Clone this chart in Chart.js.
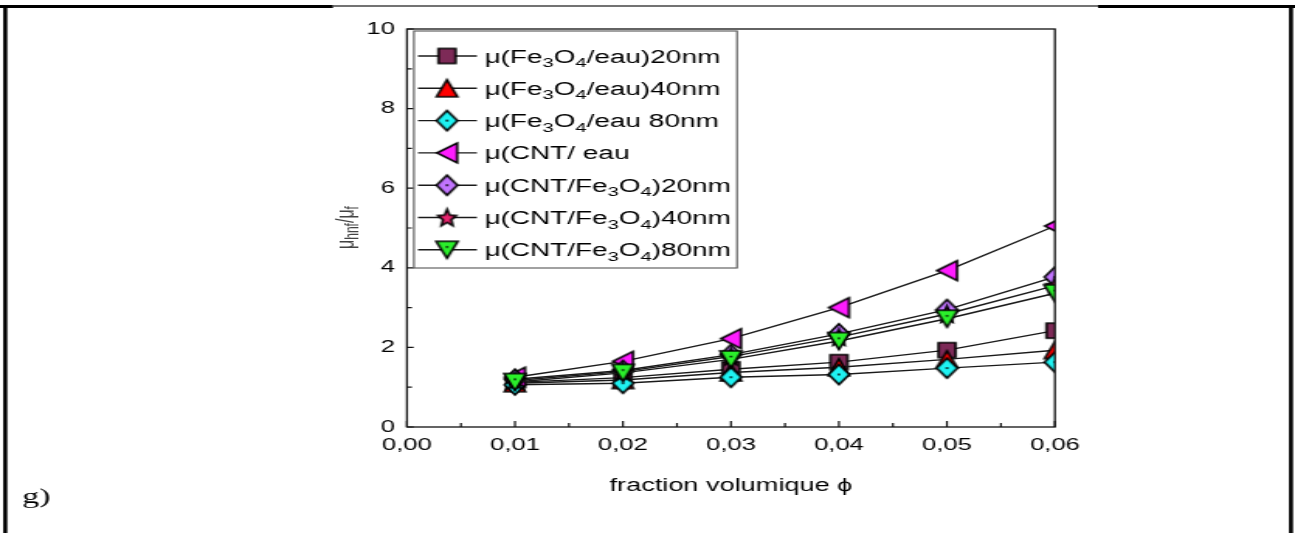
<!DOCTYPE html>
<html>
<head>
<meta charset="utf-8">
<script src="https://cdn.jsdelivr.net/npm/chart.js@4.4.1/dist/chart.umd.min.js"></script>
<style>
  html, body { margin: 0; padding: 0; background: #fff; overflow: hidden; }
  /* the reference picture is stretched sideways, so the chart is drawn narrow and widened */
  #wrap { position: absolute; left: 0; top: 0; width: 835px; height: 533px;
          transform: scaleX(1.5509); transform-origin: 0 0; }
</style>
</head>
<body>
<div id="wrap"><canvas id="chart"></canvas></div>
<script>
// data
const phi = [0.01, 0.02, 0.03, 0.04, 0.05, 0.06];
const fe20 = [1.12, 1.24, 1.45, 1.63, 1.93, 2.42];
const fe40 = [1.10, 1.18, 1.37, 1.50, 1.70, 1.93];
const fe80 = [1.06, 1.10, 1.25, 1.32, 1.48, 1.63];
const cntEau = [1.25, 1.65, 2.22, 3.00, 3.93, 5.05];
const hyb20 = [1.20, 1.42, 1.82, 2.34, 2.95, 3.77];
const hyb40 = [1.17, 1.39, 1.77, 2.26, 2.84, 3.55];
const hyb80 = [1.13, 1.36, 1.70, 2.16, 2.72, 3.36];

const seriesLabels = [
  'μ(Fe_3O_4/eau)20nm',
  'μ(Fe_3O_4/eau)40nm',
  'μ(Fe_3O_4/eau 80nm',
  'μ(CNT/ eau',
  'μ(CNT/Fe_3O_4)20nm',
  'μ(CNT/Fe_3O_4)40nm',
  'μ(CNT/Fe_3O_4)80nm'
];
const seriesValues = [fe20, fe40, fe80, cntEau, hyb20, hyb40, hyb80];
const seriesShapes = ['square', 'up', 'diamond', 'left', 'diamond', 'star', 'down'];
const seriesColors = ['#7d2a57', '#ff0000', '#1ff2f2', '#ff1cff', '#c274ff', '#e8246e', '#2bef2b'];
const seriesDots = [false, false, true, false, true, false, true];

const xMin = 0, xMax = 0.06, xStep = 0.01;
const yMin = 0, yMax = 10, yStep = 2;

const FONT = "'Liberation Sans', Arial, sans-serif";
Chart.defaults.font.family = FONT;
Chart.defaults.color = '#111';

// marker sizes (narrow, because of the sideways stretch)
const markerSize = {
  square: [11, 15], up: [13.5, 17], down: [14, 17], left: [13, 20],
  diamond: [13.5, 20], star: [12.5, 18]
};

function makeMarker(shape, fill, dot) {
  const [w, h] = markerSize[shape];
  const pad = 4;
  const c = document.createElement('canvas');
  c.width = Math.ceil(w + pad * 2);
  c.height = Math.ceil(h + pad * 2);
  const g = c.getContext('2d');
  g.translate(c.width / 2, c.height / 2);
  const hw = w / 2, hh = h / 2;
  let dy = 0;
  g.beginPath();
  if (shape === 'square') {
    g.rect(-hw, -hh, w, h);
  } else if (shape === 'up') {
    g.moveTo(0, -hh); g.lineTo(hw, hh); g.lineTo(-hw, hh); dy = hh / 3;
  } else if (shape === 'down') {
    g.moveTo(-hw, -hh); g.lineTo(hw, -hh); g.lineTo(0, hh); dy = -hh / 3;
  } else if (shape === 'left') {
    g.moveTo(-hw, 0); g.lineTo(hw, -hh); g.lineTo(hw, hh);
  } else if (shape === 'diamond') {
    g.moveTo(0, -hh); g.lineTo(hw, 0); g.lineTo(0, hh); g.lineTo(-hw, 0);
  } else if (shape === 'star') {
    for (let i = 0; i < 10; i++) {
      const a = -Math.PI / 2 + i * Math.PI / 5;
      const r = i % 2 ? 0.45 : 1;
      const px = Math.cos(a) * hw * r, py = Math.sin(a) * hh * r + hh * 0.1;
      if (i === 0) g.moveTo(px, py); else g.lineTo(px, py);
    }
  }
  g.closePath();
  g.fillStyle = fill;
  g.fill();
  g.lineWidth = 1.6;
  g.strokeStyle = '#000';
  g.stroke();
  if (dot) {
    g.beginPath();
    g.arc(0, dy, 0.9, 0, Math.PI * 2);
    g.fillStyle = '#000';
    g.fill();
  }
  return c;
}

const markers = seriesShapes.map((s, i) => makeMarker(s, seriesColors[i], seriesDots[i]));

const datasets = seriesValues.map((vals, i) => ({
  label: seriesLabels[i],
  data: vals.map((v, k) => ({ x: phi[k], y: v })),
  borderColor: '#1a1a1a',
  borderWidth: 1.4,
  pointStyle: markers[i],
  pointRadius: 8,
  pointHoverRadius: 8,
  fill: false,
  tension: 0,
  clip: 0,
  order: seriesValues.length - i
}));

// draws "main_sub" text with subscripts, returns width
function richText(ctx, str, x, y, size, subSize, measureOnly) {
  const parts = [];
  for (let i = 0; i < str.length; i++) {
    if (str[i] === '_') { parts.push({ t: str[i + 1], sub: true }); i++; }
    else parts.push({ t: str[i], sub: false });
  }
  let cx = x;
  parts.forEach(p => {
    ctx.font = (p.sub ? subSize : size) + 'px ' + FONT;
    if (!measureOnly) ctx.fillText(p.t, cx, p.sub ? y + size * 0.25 : y);
    cx += ctx.measureText(p.t).width;
  });
  return cx - x;
}

const decorPlugin = {
  id: 'decor',
  afterDatasetsDraw(chart) {
    const ctx = chart.ctx;
    const a = chart.chartArea;
    const xs = chart.scales.x, ys = chart.scales.y;
    ctx.save();
    ctx.strokeStyle = '#111';
    ctx.lineWidth = 1.3;
    ctx.strokeRect(a.left, a.top, a.right - a.left, a.bottom - a.top);
    // inward ticks, major and minor
    ctx.lineWidth = 1.2;
    ctx.beginPath();
    const xt = xs.ticks.map(t => t.value);
    xt.forEach((v, k) => {
      const px = xs.getPixelForValue(v);
      ctx.moveTo(px, a.bottom); ctx.lineTo(px, a.bottom - 6);
      if (k < xt.length - 1) {
        const pm = xs.getPixelForValue((v + xt[k + 1]) / 2);
        ctx.moveTo(pm, a.bottom); ctx.lineTo(pm, a.bottom - 4);
      }
    });
    const yt = ys.ticks.map(t => t.value);
    yt.forEach((v, k) => {
      const py = ys.getPixelForValue(v);
      ctx.moveTo(a.left, py); ctx.lineTo(a.left + 4.3, py);
      if (k < yt.length - 1) {
        const pm = ys.getPixelForValue((v + yt[k + 1]) / 2);
        ctx.moveTo(a.left, pm); ctx.lineTo(a.left + 3.2, pm);
      }
    });
    ctx.stroke();
    ctx.restore();
  },
  afterDraw(chart) {
    const ctx = chart.ctx;
    const W = chart.width, H = chart.height;
    ctx.save();

    // legend box inside the plot
    const bx = 266.9, by = 31, bw = 208.3, bh = 237;
    ctx.fillStyle = '#fff';
    ctx.fillRect(bx, by, bw, bh);
    ctx.strokeStyle = '#555';
    ctx.lineWidth = 1.1;
    ctx.strokeRect(bx, by, bw, bh);
    chart.data.datasets.forEach((ds, i) => {
      const ry = 56 + i * 32.3;
      ctx.strokeStyle = '#1a1a1a';
      ctx.lineWidth = 1.4;
      ctx.beginPath();
      ctx.moveTo(269.5, ry); ctx.lineTo(307.5, ry);
      ctx.stroke();
      const m = ds.pointStyle;
      ctx.drawImage(m, 288.2 - m.width / 2, ry - m.height / 2);
      ctx.fillStyle = '#000';
      ctx.textBaseline = 'alphabetic';
      ctx.textAlign = 'left';
      richText(ctx, ds.label, 312.5, ry + 6.5, 18, 13);
    });

    // y axis title
    ctx.save();
    ctx.translate(224, 227.5);
    ctx.rotate(-Math.PI / 2);
    ctx.fillStyle = '#444';
    ctx.textBaseline = 'middle';
    const yTitle = 'μ_h_n_f/μ_f';
    const tw = richText(ctx, yTitle, 0, 0, 16, 12, true);
    richText(ctx, yTitle, -tw / 2, 0, 16, 12);
    ctx.restore();

    // "g)" caption
    ctx.fillStyle = '#000';
    ctx.font = "22px 'Liberation Serif', 'Times New Roman', serif";
    ctx.textBaseline = 'alphabetic';
    ctx.fillText('g)', 14.2, 503);

    // page frame
    ctx.strokeStyle = '#000';
    ctx.lineWidth = 3;
    ctx.beginPath();
    ctx.moveTo(0, 6.5); ctx.lineTo(214.7, 6.5);
    ctx.moveTo(708, 6.5); ctx.lineTo(W, 6.5);
    ctx.stroke();
    ctx.lineWidth = 1.5;
    ctx.strokeStyle = '#444';
    ctx.beginPath();
    ctx.moveTo(214.7, 6); ctx.lineTo(708, 6);
    ctx.stroke();
    ctx.strokeStyle = '#000';
    ctx.lineWidth = 2.6;
    ctx.beginPath();
    ctx.moveTo(3.4, 5); ctx.lineTo(3.4, H);
    ctx.moveTo(W - 2.6, 5); ctx.lineTo(W - 2.6, H);
    ctx.stroke();
    ctx.restore();
  }
};

new Chart(document.getElementById('chart'), {
  type: 'line',
  data: { datasets: datasets },
  options: {
    responsive: true,
    maintainAspectRatio: false,
    animation: false,
    events: [],
    layout: { padding: { left: 202.4, right: 154.8, top: 29, bottom: 26 } },
    plugins: {
      legend: { display: false },
      tooltip: { enabled: false },
      title: { display: false }
    },
    scales: {
      x: {
        type: 'linear',
        min: xMin, max: xMax,
        grid: { display: false, drawTicks: false },
        border: { display: false },
        afterFit: s => { s.height = 80; },
        ticks: {
          stepSize: xStep,
          padding: 9,
          font: { size: 16.5 },
          color: '#000',
          maxRotation: 0,
          callback: v => v.toFixed(2).replace('.', ',')
        },
        title: {
          display: true,
          text: 'fraction volumique ϕ',
          font: { size: 17.5 },
          color: '#000',
          padding: { top: 0, bottom: 10 }
        }
      },
      y: {
        type: 'linear',
        min: yMin, max: yMax,
        grid: { display: false, drawTicks: false },
        border: { display: false },
        afterFit: s => { s.width = 60; },
        ticks: {
          stepSize: yStep,
          padding: 7.7,
          font: { size: 16.5 },
          color: '#000'
        }
      }
    }
  },
  plugins: [decorPlugin]
});
</script>
</body>
</html>
